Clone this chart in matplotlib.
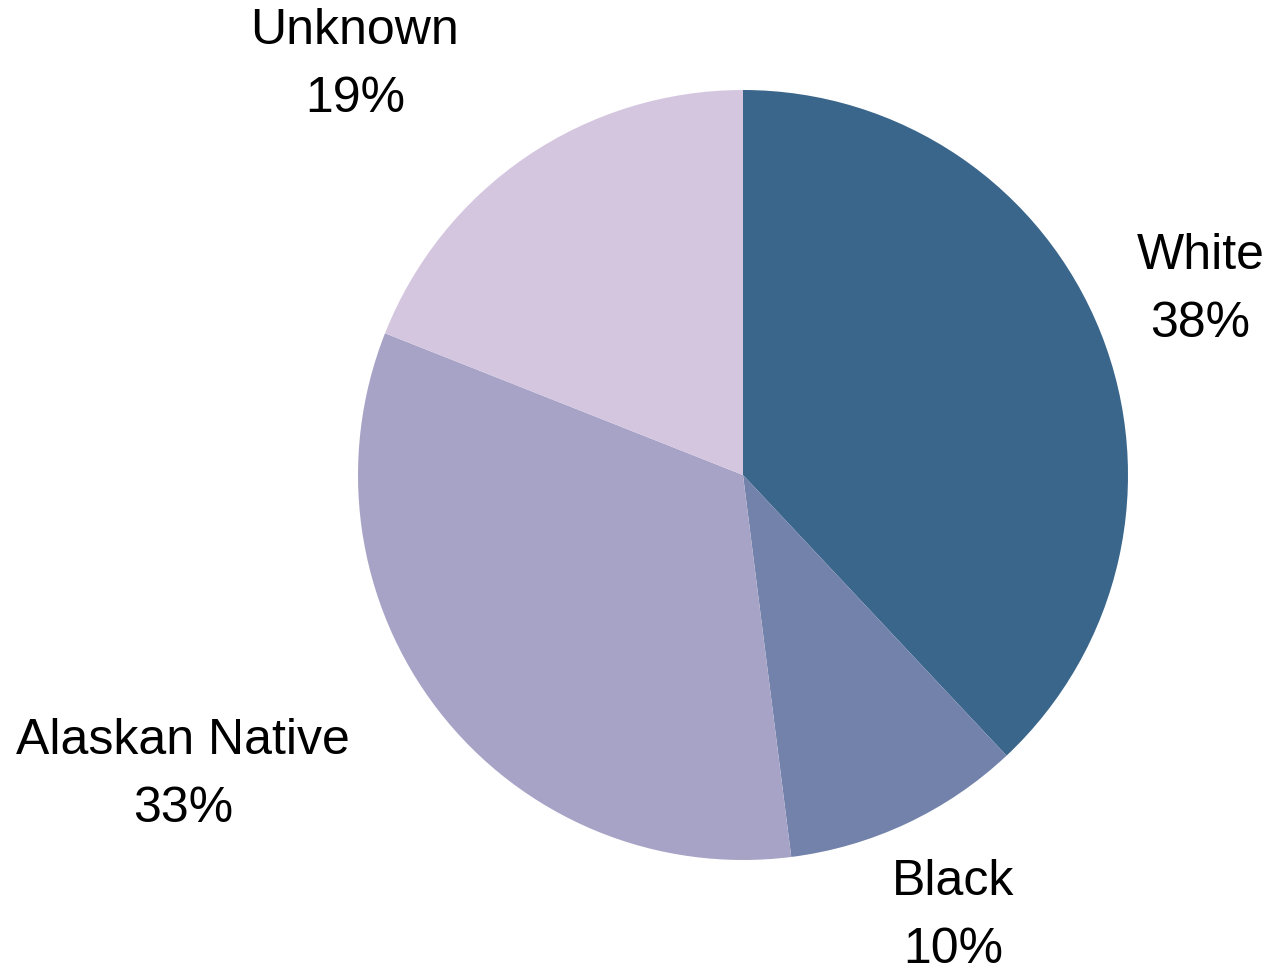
import matplotlib.pyplot as plt

plt.rcParams['font.family'] = ['Liberation Sans', 'DejaVu Sans']

# Datos
categorias = ['White', 'Black', 'Alaskan Native', 'Unknown']
porcentajes = [38, 10, 33, 19]
colores = ['#3B668B', '#7282AB', '#A7A3C6', '#D5C6E0']

# Posiciones de las etiquetas (centro del bloque de texto)
pos_etiquetas = [(1.188, 0.481), (0.545, -1.145), (-1.455, -0.779), (-1.008, 1.065)]

fig = plt.figure(figsize=(12.75, 9.74), dpi=100)
ax = fig.add_axes([0, 0, 1, 1])

ax.pie(porcentajes, colors=colores, startangle=90, counterclock=False,
       radius=1, wedgeprops=dict(linewidth=0))

for cat, val, (x, y) in zip(categorias, porcentajes, pos_etiquetas):
    ax.text(x, y, f'{cat}\n{val}%', ha='center', va='center',
            fontsize=36, linespacing=1.62, color='black')

ax.set_xlim(-743 / 385, (1275 - 743) / 385)
ax.set_ylim((475 - 974) / 385, 475 / 385)
ax.set_aspect('equal')
ax.axis('off')

fig.savefig('out.png', dpi=100)
